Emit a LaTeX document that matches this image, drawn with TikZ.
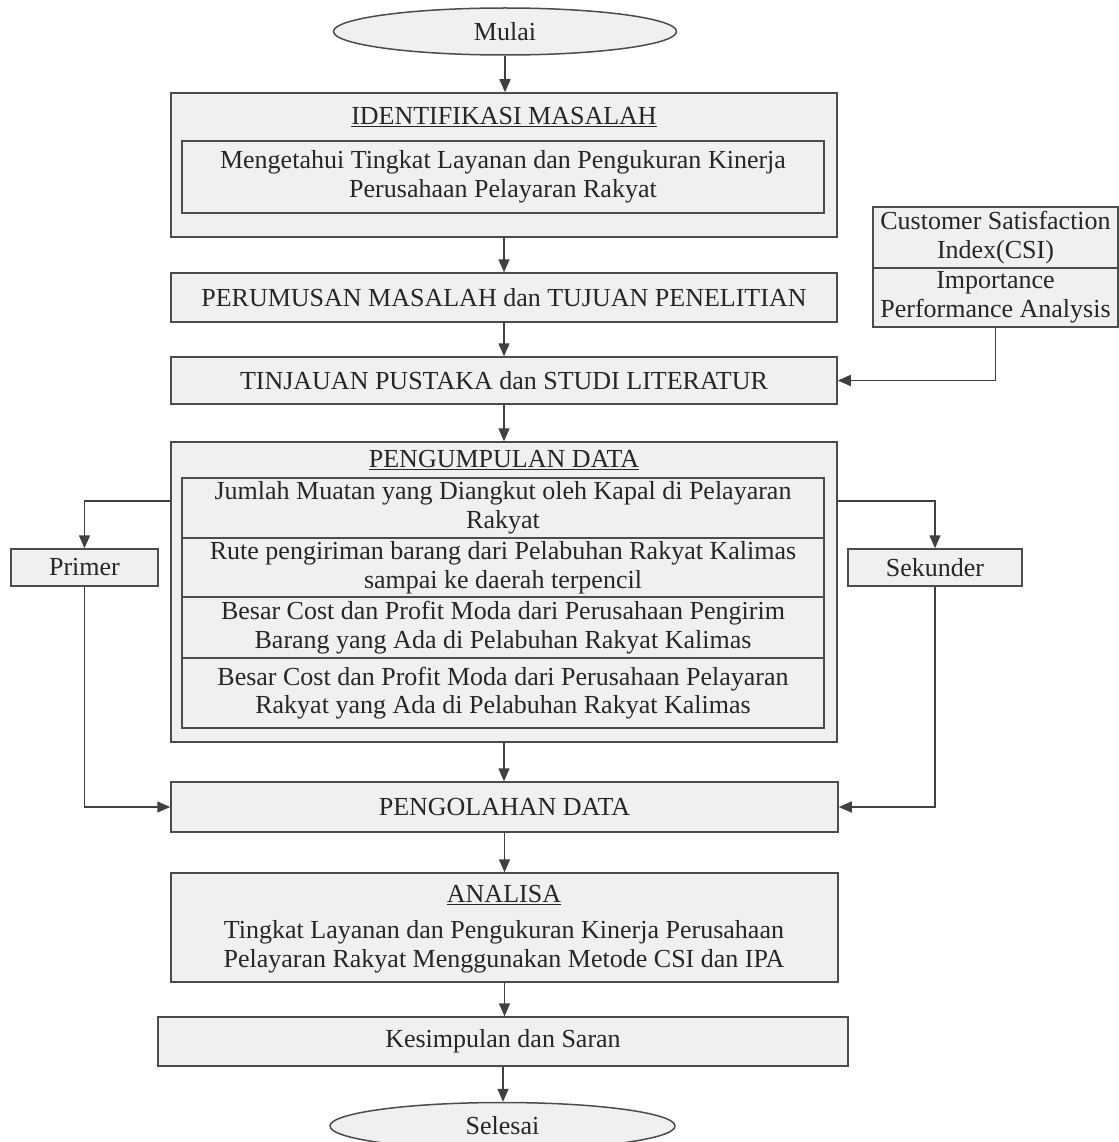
\documentclass[tikz,border=0pt]{standalone}
\usepackage{fontspec}
\setmainfont{Liberation Serif}
\usetikzlibrary{arrows.meta,shapes.geometric}
\begin{document}
\begin{tikzpicture}[x=1pt,y=-1pt,
  font=\fontsize{26}{28.5}\selectfont,
  box/.style={draw=black!70, line width=1.5pt, fill=black!6, inner sep=0pt, align=center, text=black!85},
  oval/.style={ellipse, draw=black!70, line width=1.5pt, fill=black!6, inner sep=0pt, text=black!85},
  txt/.style={inner sep=0pt, align=center, text=black!85},
  arr/.style={draw=black!75, line width=1.5pt, -{Triangle[length=13pt,width=11pt]}}]
\useasboundingbox (0,0) rectangle (1118,1142);

% start
\node[oval, minimum width=343pt, minimum height=47pt] (mulai) at (505,31.5) {Mulai};

% identifikasi
\node[box, minimum width=666pt, minimum height=144pt] (b1) at (504,165) {};
\node[txt] (b1t) at (504,117) {\underline{IDENTIFIKASI MASALAH}};
\node[box, minimum width=642pt, minimum height=72pt] (b1i) at (503,177)
  {Mengetahui Tingkat Layanan dan Pengukuran Kinerja\\Perusahaan Pelayaran Rakyat};

\node[box, minimum width=666pt, minimum height=49pt] (b2) at (504,297.5) {PERUMUSAN MASALAH dan TUJUAN PENELITIAN};
\node[box, minimum width=666pt, minimum height=47pt] (b3) at (504,380.5) {TINJAUAN PUSTAKA dan STUDI LITERATUR};

% CSI / IPA
\node[box, minimum width=245pt, minimum height=61pt] (csi1) at (995.5,237.5) {Customer Satisfaction\\Index(CSI)};
\node[box, minimum width=245pt, minimum height=59pt] (csi2) at (995.5,297.5) {Importance\\Performance Analysis};

% pengumpulan data
\node[box, minimum width=666pt, minimum height=300pt] (b4) at (504,592) {};
\node[txt] (b4t) at (504,460) {\underline{PENGUMPULAN DATA}};
\node[box, minimum width=642pt, minimum height=60pt] (r1) at (503,508)
  {Jumlah Muatan yang Diangkut oleh Kapal di Pelayaran\\Rakyat};
\node[box, minimum width=642pt, minimum height=59pt] (r2) at (503,567.5)
  {Rute pengiriman barang dari Pelabuhan Rakyat Kalimas\\sampai ke daerah terpencil};
\node[box, minimum width=642pt, minimum height=61pt] (r3) at (503,627.5)
  {Besar Cost dan Profit Moda dari Perusahaan Pengirim\\Barang yang Ada di Pelabuhan Rakyat Kalimas};
\node[box, minimum width=642pt, minimum height=70pt] (r4) at (503,693)
  {Besar Cost dan Profit Moda dari Perusahaan Pelayaran\\Rakyat yang Ada di Pelabuhan Rakyat Kalimas};

\node[box, minimum width=147pt, minimum height=37pt] (primer) at (84.5,567.5) {Primer};
\node[box, minimum width=174pt, minimum height=37pt] (sekunder) at (935,567.5) {Sekunder};

\node[box, minimum width=667pt, minimum height=50pt] (b5) at (504.5,807) {PENGOLAHAN DATA};

\node[box, minimum width=667pt, minimum height=109pt] (b6) at (504.5,927.5) {};
\node[txt] (b6t) at (504,895) {\underline{ANALISA}};
\node[txt] (b6x) at (504,947)
  {Tingkat Layanan dan Pengukuran Kinerja Perusahaan\\Pelayaran Rakyat Menggunakan Metode CSI dan IPA};

\node[box, minimum width=690pt, minimum height=49pt] (b7) at (503,1041.5) {Kesimpulan dan Saran};

\node[oval, minimum width=345pt, minimum height=47pt] (selesai) at (502.5,1126) {Selesai};

% connectors
\draw[arr] (mulai.south) -- (mulai.south |- b1.north);
\draw[arr] (b1.south) -- (b2.north);
\draw[arr] (b2.south) -- (b3.north);
\draw[arr] (b3.south) -- (b4.north);
\draw[arr] (b4.south) -- (b4.south |- b5.north);
\draw[arr] (b5.south) -- (b6.north);
\draw[arr] (b6.south) -- (b6.south |- b7.north);
\draw[arr] (b7.south) -- (b7.south |- selesai.north);
\draw[arr] (csi2.south) |- (b3.east);
\draw[arr] ([yshift=91pt]b4.west) -| (primer.north);
\draw[arr] (primer.south) |- (b5.west);
\draw[arr] ([yshift=91pt]b4.east) -| (sekunder.north);
\draw[arr] (sekunder.south) |- (b5.east);
\end{tikzpicture}
\end{document}
